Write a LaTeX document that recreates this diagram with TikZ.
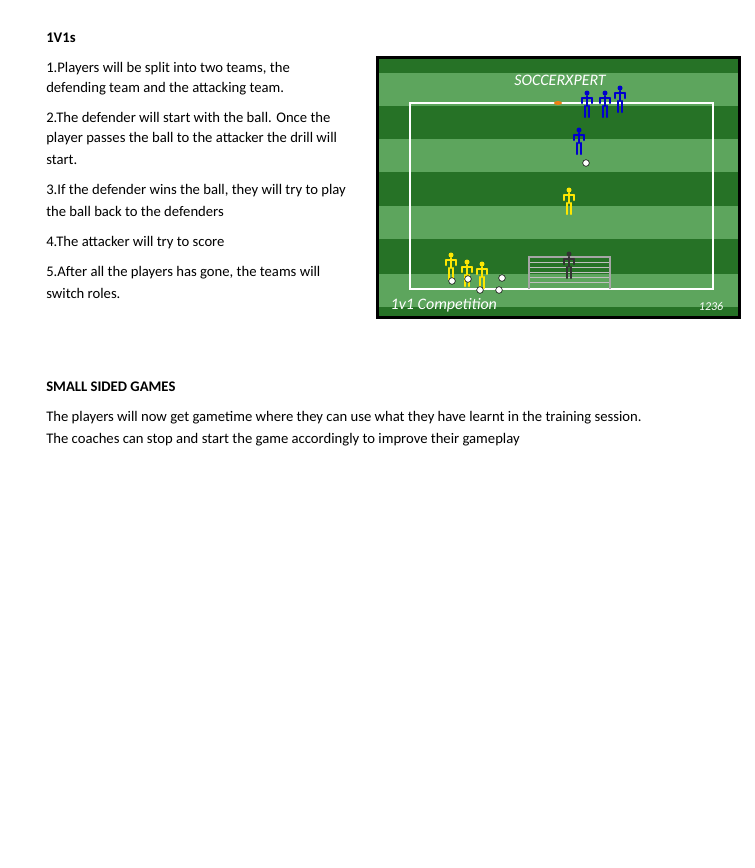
\documentclass[tikz,border=0pt]{standalone}
\usepackage{fontspec}
\setmainfont{Carlito}
\begin{document}
\begin{tikzpicture}[x=0.75pt,y=-0.75pt,
 txt/.style={anchor=base west,inner sep=0pt,font=\fontsize{11pt}{13pt}\selectfont},
 hd/.style={txt,font=\fontsize{11pt}{13pt}\selectfont\bfseries},
 fig/.style={line width=1.6pt,line cap=round},
 ball/.style={circle,draw=black,fill=white,inner sep=0pt,minimum size=5pt,line width=0.4pt}]
\useasboundingbox (0,0) rectangle (754,868);
\fill[white] (0,0) rectangle (754,868);
% left text
\node[hd] (t0) at (46,42) {1V1s};
\node[txt] (t1) at (46,72) {1.Players will be split into two teams, the};
\node[txt] (t2) at (46,92) {defending team and the attacking team.};
\node[txt] (t3) at (46,122) {2.The defender will start with the ball. Once the};
\node[txt] (t4) at (46,142) {player passes the ball to the attacker the drill will};
\node[txt] (t5) at (46,164) {start.};
\node[txt] (t6) at (46,194) {3.If the defender wins the ball, they will try to play};
\node[txt] (t7) at (46,216) {the ball back to the defenders};
\node[txt] (t8) at (46,246) {4.The attacker will try to score};
\node[txt] (t9) at (46,276) {5.After all the players has gone, the teams will};
\node[txt] (t10) at (46,298) {switch roles.};
\node[hd] (s0) at (46,391) {SMALL SIDED GAMES};
\node[txt] (s1) at (46,421) {The players will now get gametime where they can use what they have learnt in the training session.};
\node[txt] (s2) at (46,443) {The coaches can stop and start the game accordingly to improve their gameplay};
% field image
\fill[black] (376,56) rectangle (741,319);
\fill[green!35!black!85] (379,59) rectangle (738,316);
\foreach \y in {73,139,206,274} \fill[green!45!black!75!white!85] (379,\y) rectangle (738,\y+33);
\fill[green!30!black!80!white] (379,59) rectangle (738,59);
\draw[white,line width=2pt] (410,103) rectangle (713,289);
\node[font=\itshape\fontsize{12pt}{12pt}\selectfont,text=white] (logo) at (560,80) {SOCCERXPERT};
\node[font=\itshape\fontsize{12pt}{12pt}\selectfont,text=white,anchor=west] (cap) at (386,305) {1v1 Competition};
\node[font=\itshape\fontsize{9pt}{9pt}\selectfont,text=white,anchor=east] (num) at (728,306) {1236};
\fill[orange!70!brown] (558,103) ellipse (4 and 2);
% goal
\draw[gray!70,line width=0.8pt] (529,289) -- (529,257) -- (610,257) -- (610,289);
\foreach \y in {262,267,272,277,282} \draw[gray!50,line width=0.4pt] (530,\y) -- (609,\y);
% figures
\foreach \x/\y/\c in {587/101/blue!80!black,605/101/blue!80!black,620/96/blue!80!black,579/138/blue!80!black,569/198/yellow!90!orange,451/263/yellow!90!orange,467/270/yellow!90!orange,482/272/yellow!90!orange,569/262/black!80}{
 \fill[\c] (\x,\y-8) circle (2.5);
 \draw[fig,\c] (\x,\y-5) -- (\x,\y+5) (\x-5,\y-3) -- (\x+5,\y-3) (\x-5,\y-3)--(\x-5,\y+2) (\x+5,\y-3)--(\x+5,\y+2) (\x-2,\y+5) -- (\x-2,\y+16) (\x+2,\y+5) -- (\x+2,\y+16);
}
\foreach \x/\y in {586,163/0,452/281,468/279,501/278,500/291,480/290}{}
\node[ball] (b1) at (586,163) {};
\node[ball] (b2) at (452,281) {};
\node[ball] (b3) at (468,279) {};
\node[ball] (b4) at (502,278) {};
\node[ball] (b5) at (499,290) {};
\node[ball] (b6) at (480,290) {};
\end{tikzpicture}
\end{document}
